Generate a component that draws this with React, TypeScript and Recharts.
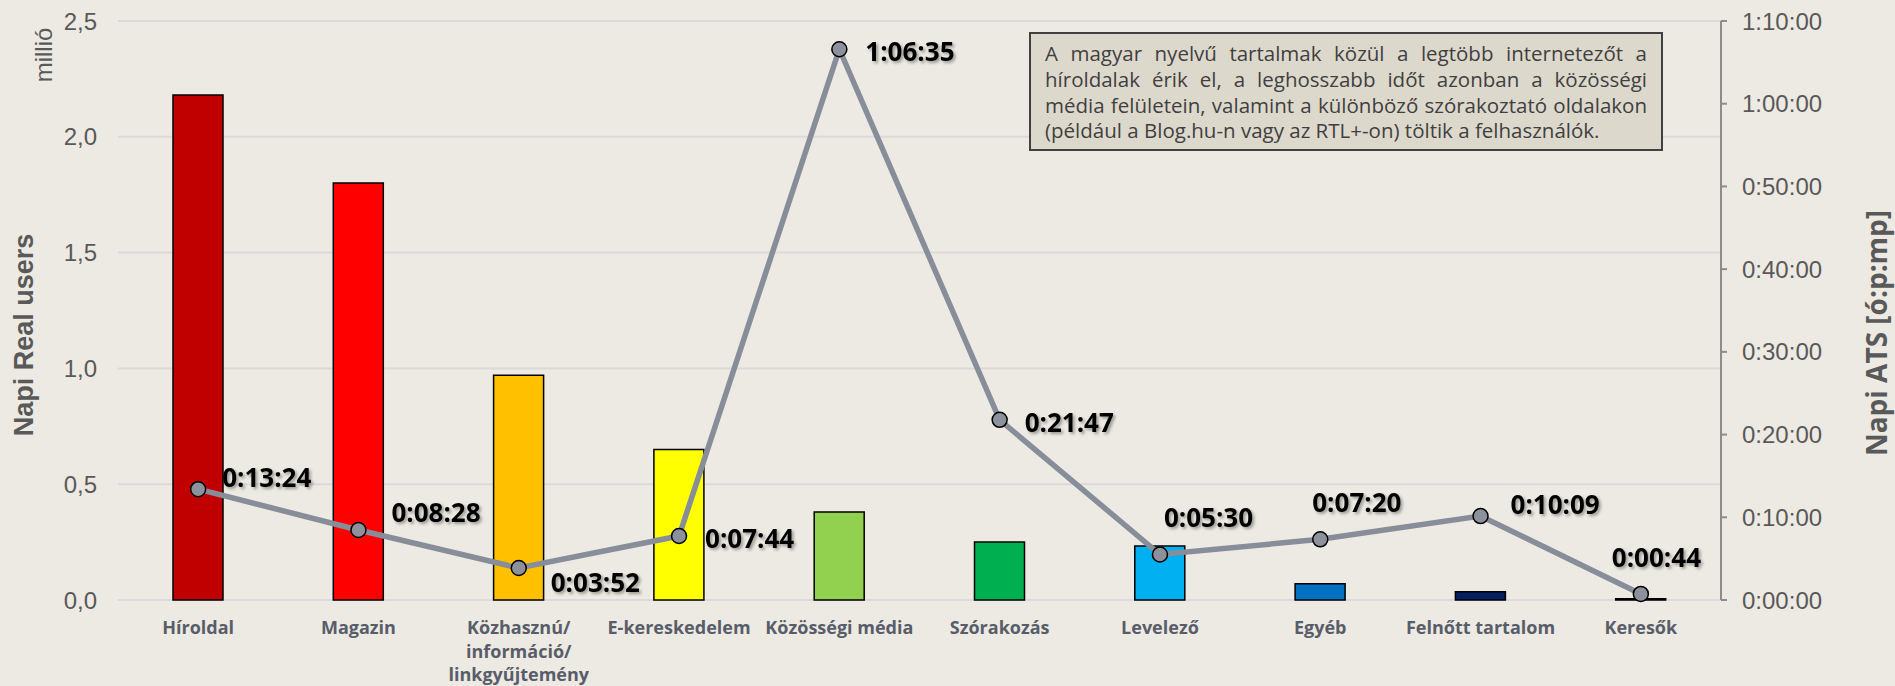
import { Bar, CartesianGrid, Cell, ComposedChart, LabelList, Line, XAxis, YAxis } from 'recharts';

const categories = [
  'Híroldal',
  'Magazin',
  'Közhasznú/\ninformáció/\nlinkgyűjtemény',
  'E-kereskedelem',
  'Közösségi média',
  'Szórakozás',
  'Levelező',
  'Egyéb',
  'Felnőtt tartalom',
  'Keresők',
];
// napi real users, millió
const realUsers = [2.18, 1.8, 0.97, 0.65, 0.38, 0.25, 0.233, 0.07, 0.036, 0.005];
// napi ATS, ó:p:mp
const atsTimes = ['0:13:24', '0:08:28', '0:03:52', '0:07:44', '1:06:35', '0:21:47', '0:05:30', '0:07:20', '0:10:09', '0:00:44'];
const barColors = ['#C00000', '#FF0000', '#FFC000', '#FFFF00', '#92D050', '#00B050', '#00B0F0', '#0070C0', '#002060', '#7F7F7F'];
const usersTicks = [0, 0.5, 1, 1.5, 2, 2.5];
const atsTicks = ['0:00:00', '0:10:00', '0:20:00', '0:30:00', '0:40:00', '0:50:00', '1:00:00', '1:10:00'];
const noteLines = [
  'A magyar nyelvű tartalmak közül a legtöbb internetezőt a',
  'híroldalak érik el, a leghosszabb időt azonban a közösségi',
  'média felületein, valamint a különböző szórakoztató oldalakon',
  '(például a Blog.hu-n vagy az RTL+-on) töltik a felhasználók.',
];
// where each time label sits relative to its point
const labelOffsets = [
  [24, -12], [33, -18], [32, 14], [26, 2], [26, 2],
  [25, 2], [4, -38], [-8, -37], [30, -12], [-29, -37],
];

const toSeconds = (s: string) => s.split(':').reduce((acc, p) => acc * 60 + Number(p), 0);
const fmtTime = (sec: number) => {
  const h = Math.floor(sec / 3600);
  const m = Math.floor((sec % 3600) / 60);
  const s = sec % 60;
  return `${h}:${String(m).padStart(2, '0')}:${String(s).padStart(2, '0')}`;
};

const data = categories.map((name, i) => ({
  name,
  users: realUsers[i],
  ats: toSeconds(atsTimes[i]),
}));

const W = 1895;
const H = 686;
const BG = '#EDEAE3';
const AXIS_TEXT = '#595959';
const TICK_FONT = '"Liberation Sans", Arial, sans-serif';
const BOLD_FONT = '"Open Sans", "Noto Sans", sans-serif';

function CategoryTick({ x, y, payload }: any) {
  const lines = String(payload.value).split('\n');
  return (
    <g>
      {lines.map((line, i) => (
        <text
          key={i}
          x={x}
          y={y + 19 + i * 23.5}
          textAnchor="middle"
          dominantBaseline="central"
          fontFamily={BOLD_FONT}
          fontWeight={700}
          fontSize={18}
          fill="#585D69"
        >
          {line}
        </text>
      ))}
    </g>
  );
}

function TimeLabel(props: any) {
  const { index, value } = props;
  const px = props.viewBox?.x ?? props.x;
  const py = props.viewBox?.y ?? props.y;
  const [dx, dy] = labelOffsets[index] ?? [20, 0];
  return (
    <text
      x={px + dx}
      y={py + dy}
      dominantBaseline="central"
      fontFamily={BOLD_FONT}
      fontWeight={700}
      fontSize={26}
      fill="#000"
      style={{ filter: 'drop-shadow(2px 2px 1.5px rgba(0,0,0,0.35))' }}
    >
      {fmtTime(value)}
    </text>
  );
}

export default function App() {
  return (
    <div style={{ position: 'absolute', left: 0, top: 0, width: W, height: H, background: BG, overflow: 'hidden' }}>
      <ComposedChart width={W} height={H} data={data} margin={{ top: 21, right: 0, left: 0, bottom: 0 }}>
        <CartesianGrid yAxisId="users" vertical={false} stroke="#DADADA" strokeWidth={2} />
        <XAxis
          dataKey="name"
          interval={0}
          axisLine={false}
          tickLine={false}
          height={86}
          tick={<CategoryTick />}
        />
        <YAxis
          yAxisId="users"
          orientation="left"
          width={118}
          domain={[0, 2.5]}
          ticks={usersTicks}
          axisLine={false}
          tickLine={false}
          tickMargin={15}
          tickFormatter={(v: number) => v.toFixed(1).replace('.', ',')}
          tick={{ fill: AXIS_TEXT, fontSize: 24, fontFamily: TICK_FONT }}
        />
        <YAxis
          yAxisId="ats"
          orientation="right"
          width={174}
          domain={[0, toSeconds(atsTicks[atsTicks.length - 1])]}
          ticks={atsTicks.map(toSeconds)}
          axisLine={{ stroke: '#8C8C8C', strokeWidth: 2 }}
          tickLine={{ stroke: '#8C8C8C', strokeWidth: 2 }}
          tickSize={6}
          tickMargin={15}
          tickFormatter={fmtTime}
          tick={{ fill: AXIS_TEXT, fontSize: 24, fontFamily: TICK_FONT, textAnchor: 'start' }}
        />
        <Bar yAxisId="users" dataKey="users" barSize={50} stroke="#000" strokeWidth={1.5} isAnimationActive={false}>
          {data.map((d, i) => (
            <Cell key={d.name} fill={barColors[i]} />
          ))}
        </Bar>
        <Line
          yAxisId="ats"
          type="linear"
          dataKey="ats"
          stroke="#878D99"
          strokeWidth={5.5}
          dot={{ r: 7.5, fill: '#8C919C', stroke: '#000', strokeWidth: 1.5 }}
          activeDot={false}
          isAnimationActive={false}
        >
          <LabelList dataKey="ats" content={<TimeLabel />} />
        </Line>
      </ComposedChart>

      <svg width={W} height={H} style={{ position: 'absolute', left: 0, top: 0, pointerEvents: 'none' }}>
        <text
          transform="translate(24 335) rotate(-90)"
          textAnchor="middle"
          dominantBaseline="central"
          fontFamily='"Liberation Sans", Arial, sans-serif'
          fontWeight={700}
          fontSize={27}
          fill={AXIS_TEXT}
        >
          Napi Real users
        </text>
        <text
          transform="translate(43 55) rotate(-90)"
          textAnchor="middle"
          dominantBaseline="central"
          fontFamily={TICK_FONT}
          fontSize={24}
          fill={AXIS_TEXT}
        >
          millió
        </text>
        <text
          transform="translate(1876 333) rotate(-90)"
          textAnchor="middle"
          dominantBaseline="central"
          fontFamily={BOLD_FONT}
          fontWeight={700}
          fontSize={28}
          fill={AXIS_TEXT}
        >
          Napi ATS [ó:p:mp]
        </text>
      </svg>

      <div
        style={{
          position: 'absolute',
          left: 1029,
          top: 32,
          width: 634,
          height: 119,
          boxSizing: 'border-box',
          background: '#DDD8CC',
          border: '2px solid #404040',
          padding: '7px 14px 0 14px',
          fontFamily: BOLD_FONT,
          fontSize: 20.5,
          lineHeight: '25.8px',
          color: '#404040',
        }}
      >
        {noteLines.map((line, i) => (
          <div
            key={i}
            style={{
              textAlign: 'justify',
              textAlignLast: i < noteLines.length - 1 ? 'justify' : 'left',
              whiteSpace: 'nowrap',
            }}
          >
            {line}
          </div>
        ))}
      </div>
    </div>
  );
}
